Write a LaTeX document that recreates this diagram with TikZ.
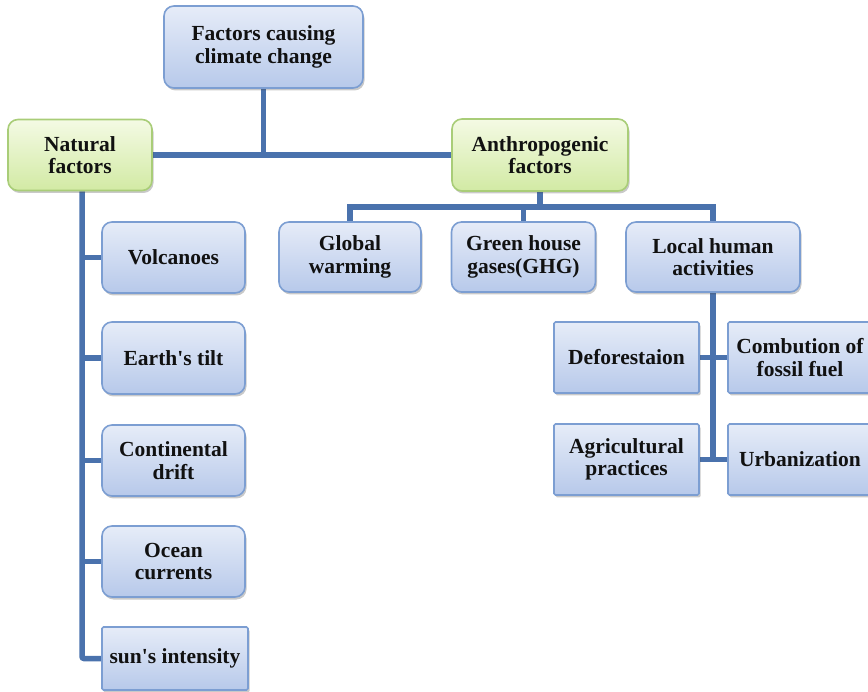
\documentclass[tikz,border=0pt]{standalone}
\usepackage{fontspec}
\setmainfont{Liberation Serif}
\usetikzlibrary{shadows,backgrounds}
\definecolor{linkblue}{HTML}{4A72AD}
\definecolor{boxedge}{HTML}{7C9ED2}
\definecolor{boxtop}{HTML}{E6ECF8}
\definecolor{boxbot}{HTML}{B7C9EA}
\definecolor{grnedge}{HTML}{A9CD78}
\definecolor{grntop}{HTML}{F4FAE4}
\definecolor{grnbot}{HTML}{D2EAA4}
\definecolor{txt}{HTML}{111111}
\tikzset{
  base/.style={draw, line width=1.6pt, align=center, text=txt,
    font=\fontsize{21.5}{22.5}\selectfont\bfseries, inner sep=2pt,
    drop shadow={shadow xshift=1.5pt, shadow yshift=-2.5pt, opacity=0.3, fill=black!70}},
  bluebox/.style={base, draw=boxedge, top color=boxtop, bottom color=boxbot},
  roundbox/.style={bluebox, rounded corners=10pt},
  flatbox/.style={bluebox, rounded corners=1.5pt},
  greenbox/.style={base, draw=grnedge, top color=grntop, bottom color=grnbot, rounded corners=10pt},
  sz/.style 2 args={minimum width=#1, minimum height=#2},
  conn/.style={draw=linkblue, line width=5.5pt}
}
\newcommand{\sq}{\textquotesingle}
\begin{document}
\begin{tikzpicture}[x=1pt, y=-1pt]
\useasboundingbox (0,0) rectangle (868,692);
\clip (0,0) rectangle (868,692);

% top of the hierarchy
\node[roundbox, sz={199pt}{82pt}] (root) at (263.5,47) {Factors causing\\climate change};
\node[greenbox, sz={144pt}{71pt}] (nat) at (80,155) {Natural\\factors};
\node[greenbox, sz={176pt}{72pt}] (anth) at (540,155) {Anthropogenic\\factors};

% natural factors
\node[roundbox, sz={143pt}{71pt}] (vol) at (173.5,257.5) {Volcanoes};
\node[roundbox, sz={143pt}{72pt}] (tilt) at (173.5,358) {Earth\sq s tilt};
\node[roundbox, sz={143pt}{71pt}] (drift) at (173.5,460.5) {Continental\\drift};
\node[roundbox, sz={143pt}{71pt}] (ocean) at (173.5,561.5) {Ocean\\currents};
\node[flatbox, sz={146pt}{63pt}] (sun) at (175,658.5) {sun\sq s intensity};

% anthropogenic factors
\node[roundbox, sz={142pt}{70pt}] (gw) at (350,257) {Global\\warming};
\node[roundbox, sz={144pt}{70pt}] (ghg) at (523.5,257) {Green house\\gases(GHG)};
\node[roundbox, sz={174pt}{70pt}] (lh) at (713,257) {Local human\\activities};

% local human activities
\node[flatbox, sz={145pt}{71pt}] (def) at (626.5,357.5) {Deforestaion};
\node[flatbox, sz={144pt}{71pt}] (comb) at (800,357.5) {Combution of\\fossil fuel};
\node[flatbox, sz={145pt}{71pt}] (agri) at (626.5,459.5) {Agricultural\\practices};
\node[flatbox, sz={144pt}{71pt}] (urb) at (800,459.5) {Urbanization};

\begin{pgfonlayer}{background}
  % root to the two main groups
  \draw[conn] (nat.east) -- (anth.west);
  \draw[conn] (root.south) -- (root.south |- nat.east);

  % natural factors trunk and branches
  \draw[conn, rounded corners=2pt] ([xshift=2pt]nat.south) |- (sun.west);
  \draw[conn] (vol.west) -- ++(-20,0);
  \draw[conn] (tilt.west) -- ++(-20,0);
  \draw[conn] (drift.west) -- ++(-20,0);
  \draw[conn] (ocean.west) -- ++(-20,0);

  % anthropogenic bus
  \coordinate (bus) at (540,207);
  \draw[conn] (anth.south) -- (bus);
  \draw[conn] (gw.north) |- (bus) -| (lh.north);
  \draw[conn] (ghg.north) -- (ghg.north |- bus);

  % local human activities trunk
  \draw[conn] (lh.south) -- (lh.south |- agri.east);
  \draw[conn] (def.east) -- (comb.west);
  \draw[conn] (agri.east) -- (urb.west);
\end{pgfonlayer}
\end{tikzpicture}
\end{document}
